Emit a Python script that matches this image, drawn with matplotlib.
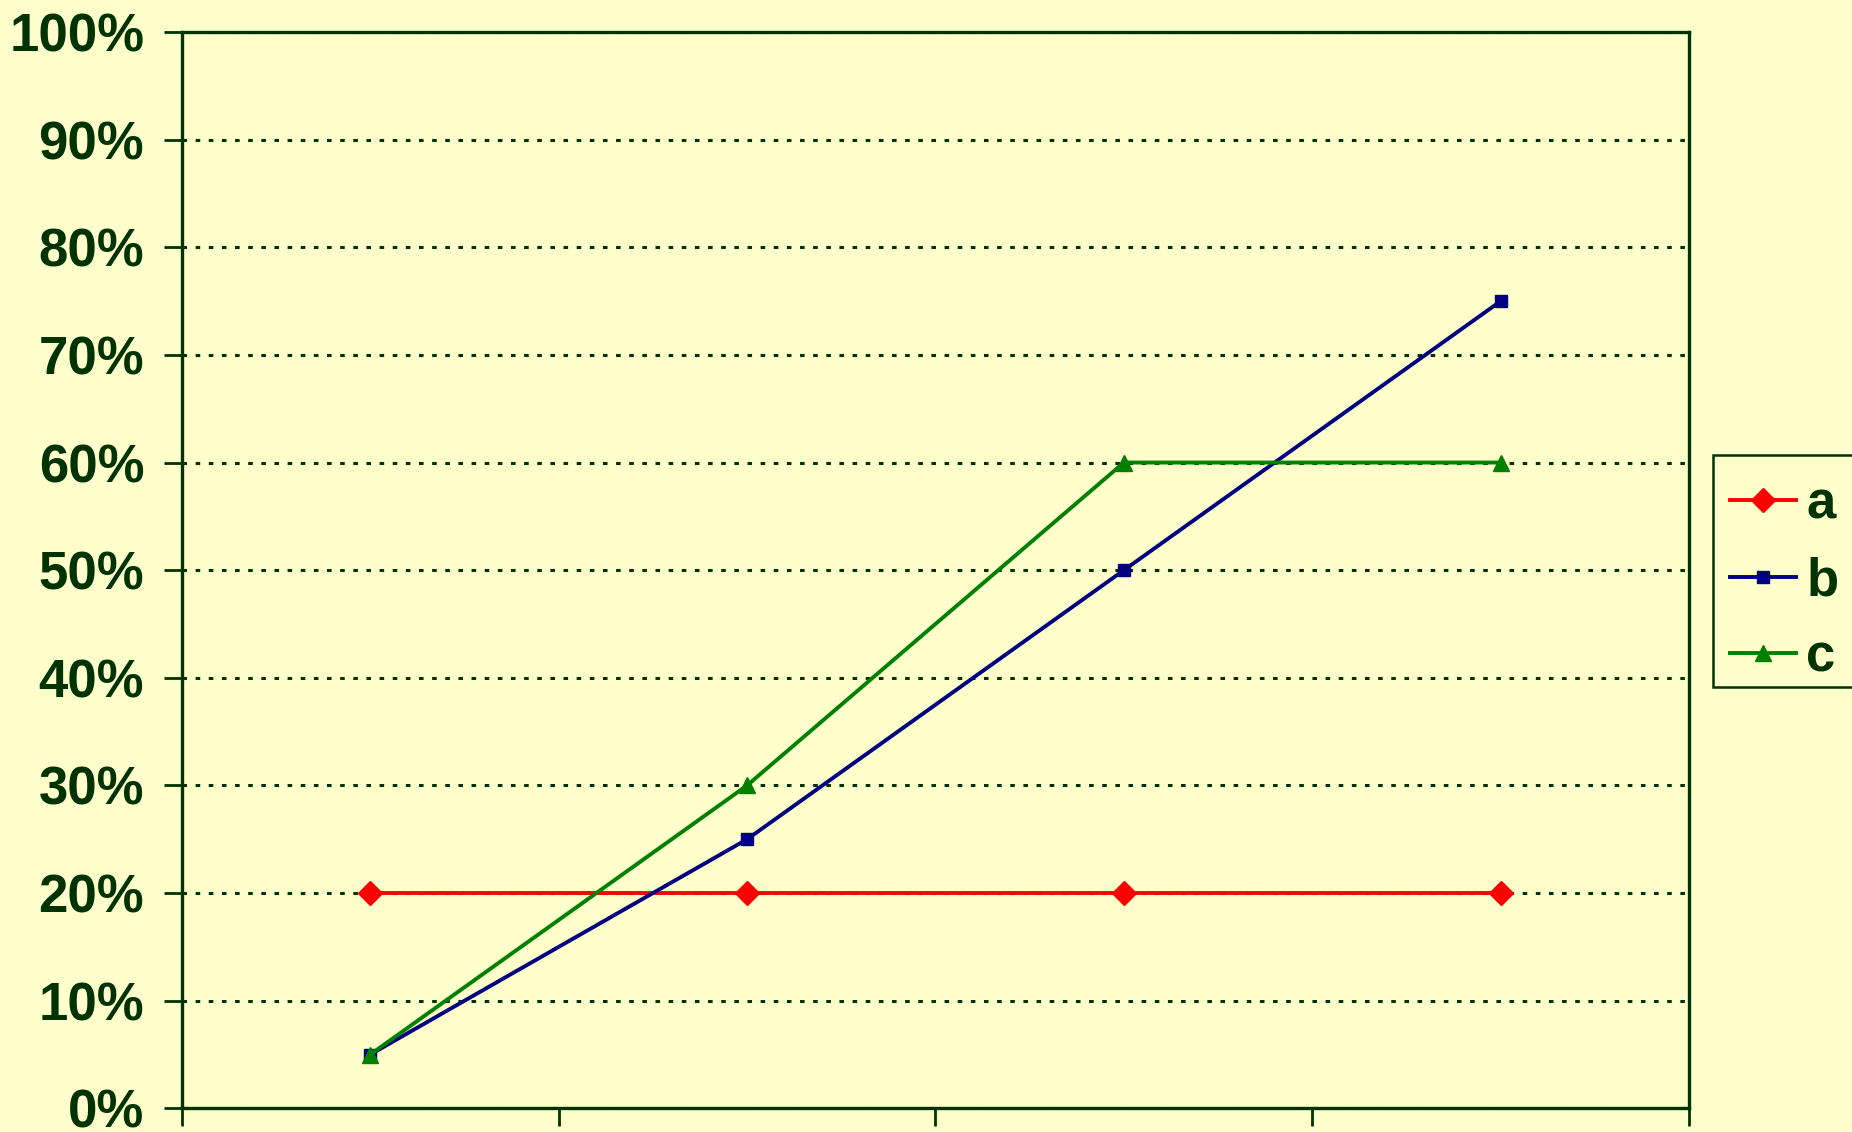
import numpy as np
import matplotlib
matplotlib.use("Agg")
import matplotlib.pyplot as plt
from matplotlib.patches import Rectangle

# values (percent)
categories = [1, 2, 3, 4]
series_a = [20, 20, 20, 20]
series_b = [5, 25, 50, 75]
series_c = [5, 30, 60, 60]
y_ticks = [0, 10, 20, 30, 40, 50, 60, 70, 80, 90, 100]
y_labels = [f"{v}%" for v in y_ticks]

BG = "#FFFFCC"
INK = "#003300"

plt.rcParams["font.family"] = ["Liberation Sans", "DejaVu Sans"]
plt.rcParams["font.weight"] = "bold"

W, H = 1852, 1132
fig = plt.figure(figsize=(W / 100, H / 100), dpi=100, facecolor=BG)
ax = fig.add_axes([0.0981, 0.0208, 0.8140, 0.9510], facecolor=BG)

ax.plot(categories, series_a, color="#FF0000", lw=2.8, marker="D", ms=12.5,
        label="a", zorder=3)
ax.plot(categories, series_b, color="#000080", lw=2.8, marker="s", ms=9,
        label="b", zorder=3)
ax.plot(categories, series_c, color="#008000", lw=2.8, marker="^", ms=11,
        label="c", zorder=4)

ax.set_xlim(0.5, 4.5)
ax.set_ylim(0, 100)
ax.set_xticks(np.arange(0.5, 5.0, 1.0))
ax.set_xticklabels([])
ax.set_yticks(y_ticks)
ax.set_yticklabels(y_labels, fontsize=38, fontweight="bold", color=INK)

ax.tick_params(axis="both", direction="out", length=13, width=2,
               color=INK, pad=14)
for side in ["left", "right", "top", "bottom"]:
    ax.spines[side].set_color(INK)
    ax.spines[side].set_linewidth(2.4)

ax.yaxis.grid(True, color=INK, lw=2.2, linestyle=(0, (1.5, 2.8)))
ax.set_axisbelow(True)

# legend frame drawn by hand so the entries can sit a little low, as in the original
fig.patches.append(Rectangle((1713 / W, 1 - 687 / H), 200 / W, 232 / H,
                             transform=fig.transFigure, facecolor=BG,
                             edgecolor=INK, lw=1.8, zorder=0))
leg = fig.legend(loc="center left", bbox_to_anchor=(1713 / W, 1 - 581 / H),
                 borderaxespad=0, frameon=False,
                 prop={"size": 38, "weight": "bold"},
                 handlelength=1.25, handletextpad=0.2, labelspacing=0.5,
                 borderpad=0.32)
for t in leg.get_texts():
    t.set_color(INK)

fig.savefig("out.png", dpi=100, facecolor=BG)
